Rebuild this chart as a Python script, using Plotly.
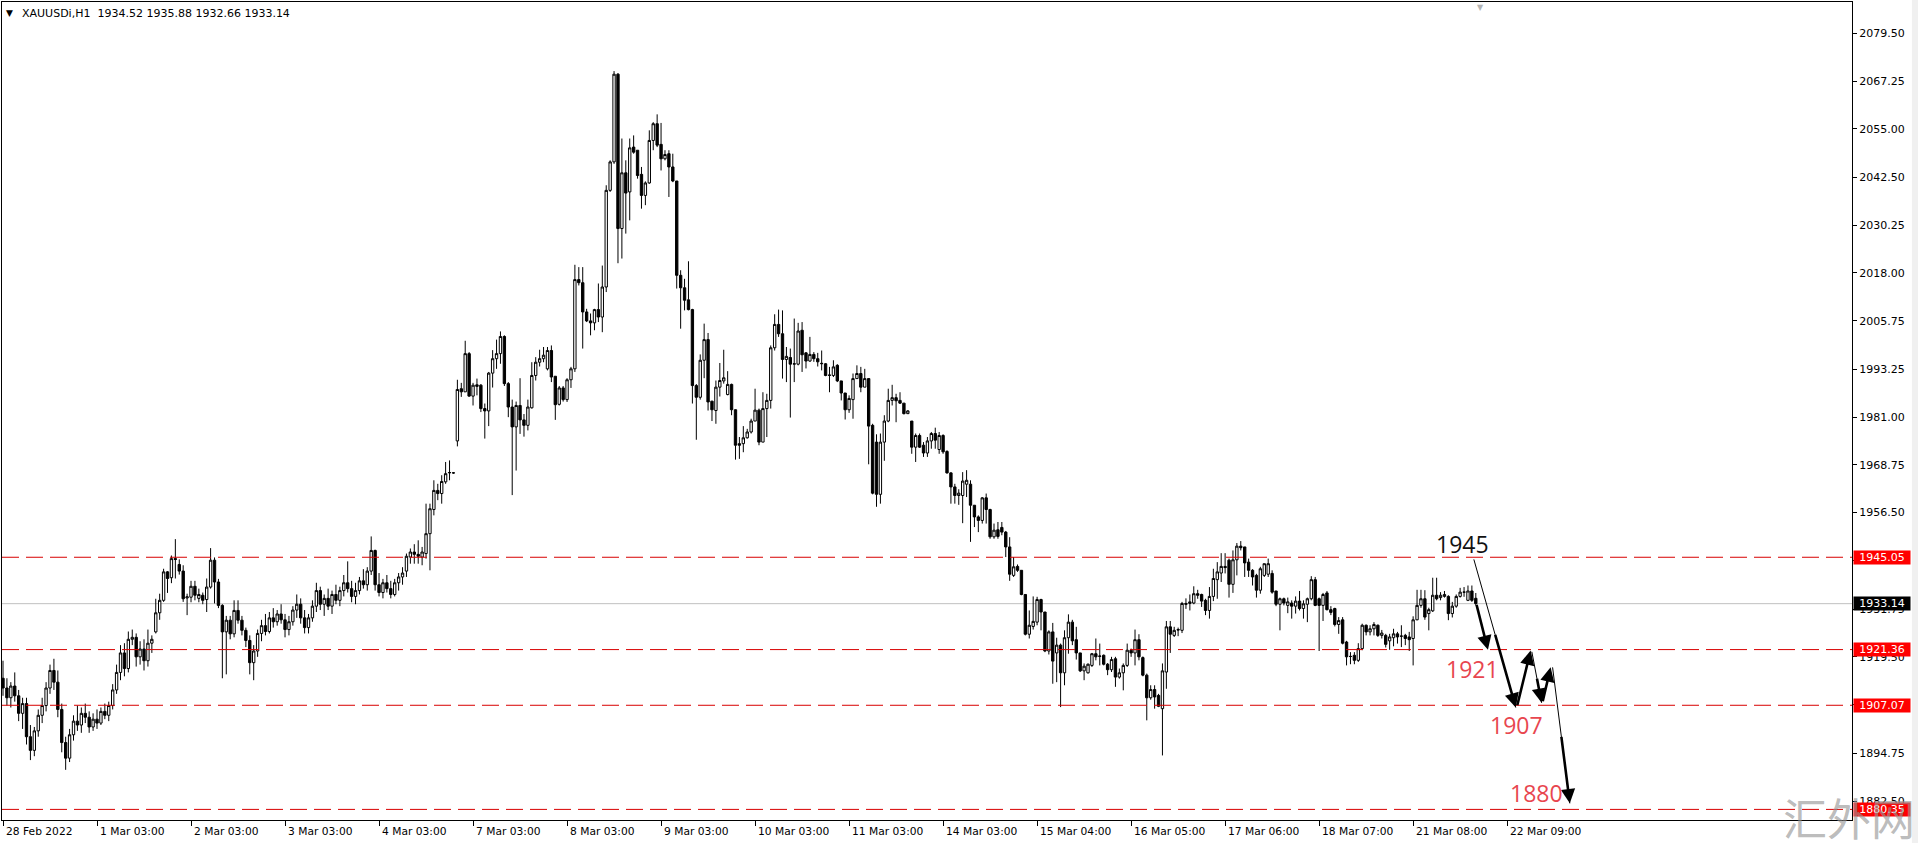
import plotly.graph_objects as go

# XAUUSDi H1, one entry per hourly bar (index 0 = 28 Feb 2022)
OPEN = [
    # 28 Feb - 1 Mar
    1914.0, 1911.5, 1909.0, 1912.0, 1909.5, 1905.0, 1907.5, 1899.0, 1895.5, 1900.5,
    1904.5, 1907.0, 1911.5, 1916.0, 1913.0, 1906.0, 1897.5, 1893.5, 1899.5, 1903.0,
    1902.0, 1905.0, 1904.0, 1901.5, 1903.5, 1902.5, 1905.5, 1904.5, 1907.0, 1911.0,
    1915.5, 1920.5, 1916.5, 1924.0, 1924.5, 1919.5, 1921.5, 1918.5, 1923.0,
    1925.9, 1930.8, 1934.0, 1941.3, 1939.8, 1944.7, 1943.2, 1941.5, 1934.6, 1934.8,
    1937.6, 1934.5, 1935.3, 1934.2, 1937.4, 1944.3, 1938.7, 1932.7, 1925.9, 1928.9,
    1925.4, 1931.4, 1928.9, 1926.3,
    # 3 Mar - 4 Mar
    1923.7, 1918.0, 1921.0, 1925.5, 1927.5, 1926.0, 1929.5, 1928.5, 1930.5, 1929.0,
    1926.5, 1928.5, 1931.5, 1933.0, 1929.5, 1927.0, 1929.5, 1932.5, 1936.5, 1933.0,
    1934.5, 1932.5, 1935.5, 1934.0, 1936.5, 1938.5, 1937.0, 1935.0, 1936.5, 1939.0,
    1938.0, 1941.5, 1946.8, 1938.0, 1936.0, 1938.5, 1937.0, 1935.5, 1938.5, 1940.0,
    1941.5, 1945.1, 1946.4, 1945.8, 1945.1, 1946.0, 1951.1, 1957.3, 1962.2, 1961.4,
    1964.4, 1966.7, 1966.7,
    # 7 Mar - 8 Mar
    1974.9, 1988.3, 1987.5, 1997.3, 1986.4, 1989.3, 1989.2,
    1983.2, 1982.6, 1992.3, 1996.0, 1997.3,
    2001.7, 1989.6, 1983.6, 1978.5, 1984.0, 1980.3, 1978.9, 1983.4, 1991.7, 1995.1,
    1996.0, 1993.4, 1998.1, 1991.5, 1984.3, 1988.5, 1985.5, 1990.6, 1993.4, 2016.3,
    2015.5, 2008.0, 2005.7, 2005.2, 2008.6, 2006.7, 2014.4, 2039.2, 2046.5, 2069.0,
    # 9 Mar - 10 Mar
    2029.4, 2043.7, 2038.8, 2050.3, 2049.5, 2043.3, 2037.9, 2041.1, 2052.0, 2056.3,
    2051.0, 2047.3, 2048.6, 2045.2, 2041.6, 2017.4, 2014.2, 2011.1, 2008.6, 1989.1,
    1986.1, 1995.6, 2000.9, 1985.1, 1982.7, 1988.7, 1990.3, 1986.8, 1989.4, 1982.9,
    1974.2, 1974.2,
    1975.7, 1977.2, 1980.0, 1982.8, 1974.6, 1983.2, 1985.3, 1998.8, 2004.8, 2002.4,
    1995.8, 1996.3, 1994.6, 1994.6, 2003.3, 1997.5, 1995.4, 1997.1, 1996.0, 1994.7,
    # 11 Mar - 14 Mar
    1994.7, 1991.7, 1991.7, 1994.3, 1990.3, 1987.2, 1982.9, 1985.5, 1990.9, 1992.2,
    1988.7, 1990.9, 1978.9, 1974.6, 1961.2, 1974.6, 1980.0, 1985.3, 1986.0, 1985.3,
    1984.6, 1981.9, 1980.0, 1973.3, 1976.3, 1973.8, 1971.8, 1974.9, 1976.8, 1972.7,
    1976.3, 1972.2, 1966.7, 1963.1, 1960.9, 1960.9, 1963.8, 1963.8, 1958.4, 1955.4,
    1954.5, 1960.3, 1957.3, 1950.3,
    # 15 Mar - 16 Mar
    1952.1, 1952.7, 1951.5, 1947.7, 1940.4, 1942.7, 1941.7, 1935.5, 1925.3, 1927.3,
    1928.4, 1934.2, 1931.0, 1921.0, 1925.9, 1920.5, 1922.5, 1915.4, 1924.4, 1928.4,
    1923.9, 1920.5, 1915.9, 1915.4, 1917.3, 1920.3, 1919.6, 1919.9, 1917.6, 1916.2,
    1919.0, 1914.3, 1915.4, 1917.3, 1921.2, 1920.5, 1923.9, 1919.3, 1914.8, 1909.0,
    1911.1, 1909.6, 1906.2, 1915.6, 1927.2, 1925.0, 1926.5, 1926.3, 1933.2, 1933.2,
    # 17 Mar - 22 Mar
    1933.3, 1935.7, 1935.5, 1934.0, 1931.4, 1935.0, 1939.3, 1941.0, 1942.7, 1944.3,
    1938.1, 1944.4, 1947.9, 1947.7,
    1943.8, 1941.7, 1940.4, 1936.6, 1940.4, 1940.7, 1940.9, 1936.4, 1933.0, 1934.4,
    1932.7, 1933.3, 1932.5, 1933.8, 1931.9, 1933.0, 1934.4, 1939.3, 1934.4, 1932.7,
    1935.9, 1931.6, 1931.9, 1927.8, 1929.0, 1923.3, 1919.6, 1919.9, 1918.6, 1921.6,
    1927.6, 1925.9, 1926.7, 1927.6, 1925.0, 1925.0, 1923.6, 1924.4, 1925.4, 1924.8,
    1925.0, 1924.6, 1924.2, 1929.0, 1932.7, 1934.4, 1930.6, 1931.3, 1935.3, 1934.7,
    1935.0, 1935.0, 1930.6, 1932.5, 1935.0, 1936.1, 1934.0, 1936.4, 1934.52,
]

HIGH = [
    1918.5, 1914.0, 1913.0, 1915.5, 1911.0, 1909.0, 1909.0, 1902.0, 1901.5, 1906.0,
    1909.0, 1913.0, 1917.5, 1919.0, 1916.0, 1907.5, 1899.0, 1901.0, 1904.5, 1907.0,
    1906.5, 1907.5, 1905.5, 1905.0, 1906.0, 1906.5, 1907.5, 1908.0, 1912.5, 1917.5,
    1922.5, 1923.0, 1926.0, 1926.5, 1925.5, 1923.5, 1924.0, 1926.5, 1925.0,
    1934.4, 1935.7, 1942.1, 1941.5, 1945.5, 1949.7, 1944.5, 1943.0, 1935.7, 1939.0,
    1939.0, 1937.0, 1936.0, 1939.6, 1947.4, 1945.0, 1939.5, 1933.0, 1930.0, 1930.0,
    1934.0, 1934.0, 1930.0, 1927.0,
    1925.0, 1922.5, 1926.5, 1929.0, 1930.5, 1931.0, 1932.0, 1931.5, 1933.0, 1930.5,
    1930.0, 1932.5, 1935.5, 1934.5, 1931.5, 1930.5, 1934.0, 1938.5, 1937.5, 1935.5,
    1937.0, 1936.5, 1938.0, 1937.5, 1940.5, 1944.0, 1939.0, 1938.5, 1940.0, 1942.0,
    1942.5, 1950.4, 1947.0, 1941.0, 1939.5, 1940.5, 1939.0, 1939.5, 1941.0, 1942.5,
    1946.0, 1947.3, 1948.4, 1949.4, 1947.7, 1958.8, 1958.8, 1964.8, 1963.9, 1966.1,
    1969.5, 1969.9, 1966.9,
    1990.6, 1989.8, 2000.6, 1997.7, 1989.8, 1990.9, 1989.5,
    1984.5, 1992.6, 1998.2, 2000.9, 2003.0,
    2002.0, 1990.0, 1985.5, 1985.0, 1991.0, 1981.8, 1985.5, 1995.1, 1996.4, 1998.3,
    1999.0, 1999.0, 1999.4, 1991.5, 1989.0, 1989.0, 1991.0, 1993.9, 2020.1, 2019.5,
    2019.5, 2008.8, 2007.6, 2008.8, 2015.3, 2019.9, 2040.5, 2046.9, 2069.8, 2069.3,
    2052.5, 2046.9, 2052.5, 2053.3, 2049.5, 2045.2, 2041.5, 2054.6, 2056.7, 2058.7,
    2056.5, 2049.5, 2049.5, 2048.6, 2041.6, 2018.7, 2016.5, 2021.0, 2008.8, 1989.5,
    1997.1, 2005.0, 2002.6, 1985.2, 1990.4, 1994.9, 1998.3, 1992.8, 1989.6, 1983.0,
    1975.9, 1978.7,
    1978.0, 1980.6, 1988.3, 1983.2, 1987.4, 1987.0, 1999.4, 2007.4, 2008.6, 2008.4,
    1999.0, 1998.6, 2006.3, 2005.2, 2005.4, 1997.7, 2001.6, 1997.7, 1997.5, 1998.1,
    1994.9, 1993.9, 1995.6, 1994.6, 1990.3, 1987.2, 1986.6, 1992.2, 1994.3, 1993.9,
    1993.4, 1990.9, 1979.3, 1976.6, 1976.8, 1981.5, 1988.3, 1989.3, 1987.0, 1987.4,
    1984.6, 1982.8, 1980.0, 1976.8, 1976.8, 1974.6, 1975.9, 1977.2, 1978.3, 1977.2,
    1976.6, 1972.5, 1966.9, 1963.9, 1962.5, 1966.9, 1967.4, 1964.8, 1958.4, 1955.8,
    1960.5, 1961.4, 1957.5, 1953.7,
    1954.1, 1954.1, 1951.8, 1950.2, 1945.1, 1943.2, 1941.7, 1935.5, 1931.4, 1935.0,
    1934.9, 1934.4, 1931.0, 1926.3, 1928.2, 1924.4, 1922.9, 1926.3, 1930.4, 1929.0,
    1927.2, 1920.5, 1917.8, 1917.8, 1920.5, 1924.2, 1922.9, 1920.1, 1917.9, 1919.5,
    1919.5, 1916.5, 1917.8, 1922.9, 1921.6, 1926.5, 1925.3, 1919.6, 1915.2, 1912.2,
    1912.2, 1910.0, 1917.8, 1928.7, 1928.7, 1927.2, 1927.0, 1933.6, 1934.5, 1935.5,
    1937.6, 1936.7, 1935.7, 1934.4, 1937.4, 1942.1, 1943.8, 1946.1, 1946.1, 1944.7,
    1946.8, 1948.7, 1949.2, 1947.7,
    1944.7, 1942.0, 1940.8, 1942.6, 1943.4, 1944.7, 1941.7, 1936.4, 1934.7, 1934.7,
    1934.7, 1934.0, 1935.0, 1936.4, 1934.0, 1934.7, 1940.2, 1940.0, 1934.7, 1935.9,
    1936.4, 1932.5, 1932.1, 1929.7, 1929.7, 1923.6, 1920.7, 1920.7, 1923.0, 1928.0,
    1927.8, 1927.6, 1928.4, 1927.8, 1926.4, 1925.4, 1925.4, 1926.7, 1925.9, 1927.6,
    1925.4, 1925.9, 1929.9, 1936.7, 1936.7, 1936.6, 1932.1, 1939.8, 1939.8, 1936.1,
    1936.4, 1935.3, 1933.6, 1935.5, 1937.2, 1937.4, 1937.8, 1937.8, 1935.88,
]

LOW = [
    1909.5, 1907.0, 1906.5, 1908.0, 1903.0, 1901.0, 1897.0, 1893.0, 1894.0, 1899.0,
    1902.5, 1905.5, 1910.0, 1911.0, 1904.0, 1895.0, 1890.5, 1892.5, 1898.0, 1900.5,
    1900.0, 1902.5, 1900.0, 1900.5, 1901.0, 1902.0, 1903.5, 1903.0, 1906.0, 1910.0,
    1913.5, 1914.5, 1915.5, 1922.5, 1917.0, 1917.5, 1916.0, 1917.0, 1920.5,
    1925.5, 1929.0, 1933.6, 1935.9, 1938.4, 1939.6, 1940.6, 1933.6, 1930.2, 1933.5,
    1934.0, 1933.5, 1933.0, 1931.0, 1937.0, 1933.2, 1932.0, 1914.0, 1915.0, 1924.0,
    1924.5, 1928.0, 1925.0, 1922.0,
    1915.0, 1913.5, 1919.5, 1923.5, 1925.0, 1925.5, 1927.0, 1927.5, 1928.0, 1924.5,
    1925.0, 1927.5, 1929.5, 1928.0, 1925.5, 1925.5, 1928.5, 1931.0, 1931.5, 1930.0,
    1931.5, 1930.5, 1933.0, 1932.5, 1935.0, 1936.0, 1933.5, 1933.0, 1935.5, 1937.0,
    1936.5, 1940.5, 1936.5, 1935.0, 1934.5, 1936.0, 1934.5, 1935.0, 1936.5, 1938.0,
    1940.0, 1943.4, 1943.4, 1943.4, 1943.0, 1944.7, 1941.7, 1955.8, 1959.7, 1958.8,
    1963.9, 1964.8, 1966.5,
    1973.5, 1986.2, 1987.5, 1986.2, 1984.0, 1986.6, 1982.3,
    1975.5, 1978.7, 1988.6, 1993.4, 1994.7,
    1989.0, 1981.0, 1961.0, 1967.3, 1976.7, 1976.0, 1977.6, 1983.2, 1990.4, 1994.0,
    1995.1, 1993.0, 1990.0, 1980.3, 1984.0, 1985.0, 1984.9, 1988.5, 1992.6, 2014.8,
    1998.6, 2005.4, 2002.0, 2003.3, 2005.4, 2002.8, 2013.1, 2038.8, 2046.0, 2020.5,
    2021.7, 2028.1, 2031.5, 2048.6, 2042.2, 2034.5, 2035.4, 2040.9, 2049.5, 2050.3,
    2044.3, 2046.9, 2037.5, 2041.3, 2014.0, 2003.7, 2008.4, 2008.4, 1984.5, 1975.2,
    1985.5, 1991.0, 1982.7, 1980.0, 1979.3, 1986.3, 1989.6, 1986.6, 1981.5, 1970.1,
    1970.3, 1972.0,
    1975.5, 1976.8, 1980.0, 1973.8, 1974.6, 1975.9, 1983.2, 1998.1, 2001.6, 1990.9,
    1990.0, 1980.9, 1990.0, 1994.3, 1992.6, 1993.5, 1995.2, 1995.2, 1994.0, 1993.0,
    1991.5, 1987.4, 1991.3, 1990.0, 1985.3, 1980.4, 1982.1, 1980.6, 1990.9, 1987.4,
    1988.7, 1968.9, 1961.2, 1958.0, 1958.8, 1969.8, 1979.7, 1984.0, 1979.7, 1984.4,
    1981.7, 1981.8, 1971.6, 1969.5, 1973.1, 1970.8, 1970.8, 1972.9, 1972.9, 1971.6,
    1971.6, 1966.5, 1958.8, 1958.8, 1958.5, 1953.8, 1960.5, 1949.0, 1952.8, 1951.5,
    1953.7, 1953.7, 1949.8, 1949.8,
    1949.8, 1950.7, 1945.1, 1939.0, 1940.0, 1941.3, 1935.3, 1925.0, 1924.2, 1926.5,
    1927.6, 1926.3, 1920.7, 1920.1, 1912.6, 1913.0, 1906.6, 1912.2, 1920.3, 1922.5,
    1918.8, 1915.6, 1913.5, 1915.2, 1916.9, 1918.6, 1917.3, 1917.3, 1914.8, 1915.6,
    1911.8, 1913.9, 1910.9, 1916.9, 1919.5, 1917.3, 1918.6, 1914.5, 1903.2, 1908.5,
    1906.2, 1906.6, 1894.2, 1911.3, 1920.5, 1924.6, 1924.8, 1925.6, 1931.8, 1931.4,
    1933.0, 1934.4, 1932.3, 1930.2, 1929.3, 1933.8, 1934.4, 1938.7, 1940.9, 1934.7,
    1935.9, 1940.4, 1946.8, 1940.0,
    1940.0, 1937.8, 1934.7, 1935.7, 1940.0, 1940.0, 1935.7, 1932.5, 1926.3, 1932.7,
    1930.7, 1929.3, 1930.6, 1931.4, 1929.3, 1928.4, 1934.0, 1932.5, 1921.0, 1928.7,
    1931.4, 1930.2, 1927.3, 1925.4, 1922.7, 1917.3, 1917.6, 1917.6, 1918.2, 1921.2,
    1925.0, 1925.0, 1925.0, 1924.6, 1924.2, 1921.9, 1921.3, 1922.2, 1922.9, 1922.0,
    1922.5, 1921.0, 1917.3, 1928.9, 1932.1, 1929.0, 1926.3, 1931.0, 1934.0, 1934.0,
    1934.7, 1928.9, 1929.6, 1932.1, 1934.7, 1934.9, 1933.8, 1933.6, 1932.66,
]

CLOSE = [
    1911.5, 1909.0, 1912.0, 1909.5, 1905.0, 1907.5, 1899.0, 1895.5, 1900.5, 1904.5,
    1907.0, 1911.5, 1916.0, 1913.0, 1906.0, 1897.5, 1893.5, 1899.5, 1903.0, 1902.0,
    1905.0, 1904.0, 1901.5, 1903.5, 1902.5, 1905.5, 1904.5, 1907.0, 1911.0, 1915.5,
    1920.5, 1916.5, 1924.0, 1924.5, 1919.5, 1921.5, 1918.5, 1923.0, 1924.0,
    1930.8, 1934.0, 1941.3, 1939.6, 1944.7, 1944.5, 1941.5, 1934.4, 1934.9, 1937.6,
    1935.3, 1935.5, 1934.0, 1937.4, 1944.3, 1938.7, 1932.7, 1925.9, 1928.9, 1925.4,
    1931.4, 1928.9, 1926.3, 1923.7,
    1918.0, 1921.0, 1925.5, 1927.5, 1926.0, 1929.5, 1928.5, 1930.5, 1929.0, 1926.5,
    1928.5, 1931.5, 1933.0, 1929.5, 1927.0, 1929.5, 1932.5, 1936.5, 1933.0, 1934.5,
    1932.5, 1935.5, 1934.0, 1936.5, 1938.5, 1937.0, 1935.0, 1936.5, 1939.0, 1938.0,
    1941.5, 1946.8, 1938.0, 1936.0, 1938.5, 1937.0, 1935.5, 1938.5, 1940.0, 1941.0,
    1945.3, 1946.4, 1945.8, 1945.3, 1946.4, 1951.1, 1957.5, 1962.2, 1961.4, 1964.5,
    1966.5, 1966.8, 1966.7,
    1988.1, 1987.5, 1997.3, 1986.4, 1989.2, 1988.9, 1983.2,
    1982.6, 1992.3, 1996.0, 1997.3, 2001.7,
    1989.6, 1983.6, 1978.5, 1984.0, 1980.3, 1978.9, 1983.6, 1991.7, 1995.1, 1996.0,
    1996.9, 1998.1, 1991.3, 1984.2, 1988.5, 1985.5, 1990.6, 1993.4, 2016.3, 2015.5,
    2008.0, 2005.7, 2005.2, 2008.6, 2006.7, 2014.4, 2039.2, 2046.5, 2069.0, 2029.4,
    2043.7, 2038.5, 2050.1, 2049.0, 2043.0, 2037.9, 2041.1, 2052.0, 2056.3, 2050.8,
    2047.3, 2048.4, 2045.2, 2041.6, 2017.4, 2014.2, 2011.0, 2008.6, 1989.1, 1986.1,
    1995.6, 2000.9, 1984.9, 1982.9, 1988.7, 1990.4, 1991.1, 1989.4, 1982.9, 1973.8,
    1973.8, 1975.7,
    1977.2, 1980.0, 1982.8, 1974.6, 1983.2, 1985.3, 1998.8, 2004.8, 2002.4, 1995.8,
    1996.6, 1994.6, 1994.7, 2003.1, 1997.0, 1995.4, 1997.1, 1996.0, 1995.2, 1994.8,
    1991.7, 1991.8, 1993.9, 1990.3, 1987.2, 1982.9, 1985.8, 1990.9, 1992.2, 1988.7,
    1990.9, 1978.7, 1961.5, 1961.2, 1974.6, 1980.0, 1985.3, 1986.0, 1985.2, 1984.6,
    1981.9, 1982.6, 1973.3, 1976.3, 1973.3, 1971.8, 1974.9, 1976.8, 1975.1, 1976.3,
    1972.1, 1966.7, 1963.1, 1960.9, 1961.5, 1964.6, 1964.8, 1958.4, 1955.4, 1954.5,
    1960.3, 1957.3, 1950.3, 1952.0,
    1950.4, 1951.5, 1947.7, 1940.7, 1942.6, 1941.7, 1935.5, 1925.3, 1927.6, 1928.6,
    1934.2, 1931.0, 1921.0, 1925.9, 1918.4, 1922.5, 1915.4, 1924.4, 1928.4, 1923.6,
    1920.5, 1915.9, 1917.1, 1917.6, 1920.3, 1919.5, 1919.7, 1917.6, 1916.2, 1918.8,
    1914.3, 1915.4, 1917.3, 1921.2, 1920.5, 1923.9, 1919.5, 1914.8, 1909.0, 1911.1,
    1909.2, 1906.8, 1915.9, 1927.2, 1925.3, 1926.3, 1926.4, 1933.2, 1933.0, 1933.6,
    1935.7, 1935.3, 1933.8, 1931.4, 1935.0, 1939.6, 1941.3, 1942.7, 1942.4, 1938.1,
    1944.4, 1947.9, 1947.5, 1943.6,
    1941.7, 1940.0, 1936.6, 1942.1, 1943.4, 1943.4, 1936.1, 1933.0, 1934.4, 1933.3,
    1933.6, 1932.5, 1933.8, 1931.9, 1933.1, 1934.4, 1939.3, 1932.7, 1932.7, 1935.5,
    1931.6, 1930.9, 1927.8, 1928.8, 1923.0, 1919.5, 1919.6, 1918.6, 1921.6, 1927.6,
    1925.9, 1926.7, 1927.8, 1925.0, 1925.6, 1922.7, 1924.6, 1925.4, 1924.6, 1924.8,
    1924.2, 1923.9, 1929.0, 1932.7, 1934.4, 1929.7, 1931.6, 1935.3, 1934.4, 1935.3,
    1935.5, 1930.6, 1932.5, 1935.0, 1936.1, 1936.1, 1936.4, 1934.0, 1933.14,
]

assert len(OPEN) == len(HIGH) == len(LOW) == len(CLOSE) == 377, (len(OPEN), len(HIGH), len(LOW), len(CLOSE))

BAR_INDEX = list(range(len(CLOSE)))

# time scale labels, one every 24 bars
X_TICK_POS = [0, 24, 48, 72, 96, 120, 144, 168, 192, 216, 240, 264, 288, 312, 336, 360, 384]
X_TICK_LABELS = [
    "28 Feb 2022", "1 Mar 03:00", "2 Mar 03:00", "3 Mar 03:00", "4 Mar 03:00",
    "7 Mar 03:00", "8 Mar 03:00", "9 Mar 03:00", "10 Mar 03:00", "11 Mar 03:00",
    "14 Mar 03:00", "15 Mar 04:00", "16 Mar 05:00", "17 Mar 06:00", "18 Mar 07:00",
    "21 Mar 08:00", "22 Mar 09:00",
]

Y_TICKS = [2079.50, 2067.25, 2055.00, 2042.50, 2030.25, 2018.00, 2005.75, 1993.25,
           1981.00, 1968.75, 1956.50, 1944.25, 1931.75, 1919.50, 1907.25, 1894.75, 1882.50]

LEVELS = [1945.05, 1921.36, 1907.07, 1880.35]
LAST_PRICE = 1933.14

# hand-drawn forecast: (tail bar, tail price), (head bar, head price), style
FORECAST_PATH = [
    ((376.1, 1933.2), (379.1, 1921.3), "solid"),
    ((375.5, 1944.5), (386.2, 1906.5), "taper"),
    ((386.5, 1906.7), (390.0, 1921.1), "solid"),
    ((390.3, 1920.8), (392.8, 1907.7), "taper"),
    ((393.0, 1907.7), (395.1, 1916.8), "solid"),
    ((395.6, 1916.8), (400.0, 1881.9), "taper"),
]
FORECAST_LABELS = [
    ("1945", 372.7, 1948.4, "#111111"),
    ("1921", 375.2, 1916.5, "#E8464F"),
    ("1907", 386.3, 1901.9, "#E8464F"),
    ("1880", 391.5, 1884.6, "#E8464F"),
]

AXIS_FONT = "DejaVu Sans"

fig = go.Figure(go.Candlestick(
    x=BAR_INDEX, open=OPEN, high=HIGH, low=LOW, close=CLOSE,
    increasing=dict(line=dict(color="black", width=1), fillcolor="white"),
    decreasing=dict(line=dict(color="black", width=1), fillcolor="black"),
    whiskerwidth=0,
    showlegend=False,
    hoverinfo="skip",
))

# current price line and support/resistance levels
fig.add_shape(type="line", xref="paper", x0=0, x1=1, yref="y", y0=LAST_PRICE, y1=LAST_PRICE,
              line=dict(color="#C0C0C0", width=1), layer="below")
for lvl in LEVELS:
    fig.add_shape(type="line", xref="paper", x0=0, x1=1, yref="y", y0=lvl, y1=lvl,
                  line=dict(color="#D80000", width=1, dash="17px,7px"))

# price tags on the scale
for lvl in LEVELS:
    fig.add_annotation(xref="paper", x=1, xanchor="left", xshift=1, yref="y", y=lvl,
                       text=f"{lvl:.2f}", showarrow=False, bgcolor="#FF0000",
                       width=56, height=13, borderpad=0,
                       font=dict(family=AXIS_FONT, size=11, color="white"))
fig.add_annotation(xref="paper", x=1, xanchor="left", xshift=1, yref="y", y=LAST_PRICE,
                   text=f"{LAST_PRICE:.2f}", showarrow=False, bgcolor="#000000",
                   width=56, height=13, borderpad=0,
                   font=dict(family=AXIS_FONT, size=11, color="white"))

# time labels, left aligned at their tick like MT4
for pos, lab in zip(X_TICK_POS, X_TICK_LABELS):
    fig.add_annotation(xref="x", x=pos, xanchor="left", xshift=1, yref="paper", y=0,
                       yanchor="top", yshift=-3, text=lab, showarrow=False,
                       font=dict(family=AXIS_FONT, size=10.7, color="black"))

# forecast arrows
for (x0, y0), (x1, y1), style in FORECAST_PATH:
    if style == "taper":
        fig.add_shape(type="line", xref="x", yref="y", x0=x0, y0=y0, x1=x1, y1=y1,
                      line=dict(color="black", width=1))
        sx, sy = x0 + 0.5 * (x1 - x0), y0 + 0.5 * (y1 - y0)
    else:
        sx, sy = x0, y0
    fig.add_annotation(x=x1, y=y1, ax=sx, ay=sy, xref="x", yref="y", axref="x", ayref="y",
                       text="", showarrow=True, arrowhead=2, arrowsize=1.1,
                       arrowwidth=2.6, arrowcolor="black", standoff=0)

for txt, bx, py, col in FORECAST_LABELS:
    fig.add_annotation(x=bx, y=py, xref="x", yref="y", text=txt, showarrow=False,
                       font=dict(family="Open Sans", size=23, color=col))

# header
fig.add_annotation(xref="paper", x=0, xanchor="left", xshift=2, yref="paper", y=1,
                   yanchor="top", yshift=-4, text="\u25BC", showarrow=False,
                   font=dict(family=AXIS_FONT, size=9, color="black"))
fig.add_annotation(xref="paper", x=0, xanchor="left", xshift=18, yref="paper", y=1,
                   yanchor="top", yshift=-3,
                   text="XAUUSDi,H1\u00a0\u00a01934.52 1935.88 1932.66 1933.14",
                   showarrow=False, font=dict(family=AXIS_FONT, size=11, color="black"))
# chart shift marker
fig.add_annotation(xref="x", x=377.1, yref="paper", y=1, yanchor="top", yshift=1,
                   text="\u25BC", showarrow=False,
                   font=dict(family=AXIS_FONT, size=8, color="#B4B4B4"))
# watermark over the bottom of the price scale
fig.add_annotation(xref="paper", x=0.9984, xanchor="center", yref="paper", y=0.004,
                   yanchor="middle", text="汇外网", showarrow=False,
                   font=dict(family="Noto Sans CJK SC", size=44, color="rgba(150,150,150,0.65)"))
# scroll strip at the far right
fig.add_shape(type="rect", xref="paper", yref="paper", x0=1.0324, x1=1.0357, y0=-0.03, y1=1.003,
              fillcolor="#F0F0F0", line=dict(width=0))

fig.update_layout(
    width=1918, height=843,
    margin=dict(l=2, r=66, t=2, b=23, pad=0),
    paper_bgcolor="white", plot_bgcolor="white",
    boxgap=0.2, boxgroupgap=0.25,
    xaxis=dict(
        range=[-0.255, 472.04], type="linear", rangeslider=dict(visible=False),
        showgrid=False, zeroline=False, showline=True, mirror=True,
        linecolor="black", linewidth=1,
        tickmode="array", tickvals=X_TICK_POS, ticktext=[""] * len(X_TICK_POS),
        ticks="outside", ticklen=5, tickcolor="black", tickwidth=1,
    ),
    yaxis=dict(
        range=[1877.63, 2087.53], side="right",
        showgrid=False, zeroline=False, showline=True, mirror=True,
        linecolor="black", linewidth=1,
        tickmode="array", tickvals=Y_TICKS, ticktext=[f"{v:.2f}" for v in Y_TICKS],
        ticks="outside", ticklen=4, tickcolor="black", tickwidth=1,
        tickfont=dict(family=AXIS_FONT, size=11, color="black"),
    ),
)

fig.write_html("out.html", config={"displayModeBar": False},
               post_script="document.body.style.margin='0';document.body.style.overflow='hidden';")
